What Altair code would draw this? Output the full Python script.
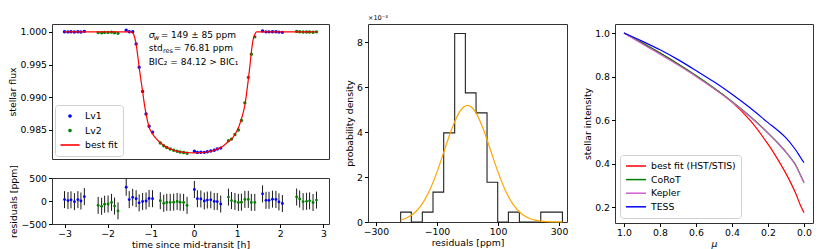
import altair as alt
import pandas as pd

FONT = "DejaVu Sans"

# ---------------- light curve (8 HST orbits, two visits) ----------------
ORBIT_VISIT = ["Lv1", "Lv2", "Lv1", "Lv2", "Lv1", "Lv2", "Lv1", "Lv2"]
ORBIT_TIME_H = [
    [-3.00, -2.92, -2.85, -2.77, -2.69, -2.62, -2.54],
    [-2.22, -2.14, -2.07, -1.99, -1.91, -1.84, -1.76],
    [-1.57, -1.50, -1.42, -1.34, -1.27, -1.19, -1.11, -1.04, -0.96],
    [-0.78, -0.70, -0.63, -0.55, -0.47, -0.39, -0.32, -0.24, -0.16],
    [0.01, 0.08, 0.16, 0.24, 0.31, 0.39, 0.47, 0.54, 0.62],
    [0.80, 0.87, 0.95, 1.03, 1.10, 1.18, 1.26, 1.33, 1.41],
    [1.59, 1.67, 1.74, 1.82, 1.90, 1.97, 2.05],
    [2.38, 2.45, 2.53, 2.61, 2.68, 2.76, 2.84],
]
ORBIT_FLUX = [
    [1.00003, 1.00001, 1.000025, 0.999985, 1.00003, 1.00000, 1.000095],
    [0.999905, 0.999885, 0.99993, 0.999935, 0.99997, 0.99989, 0.999785],
    [1.00028, 1.00003, 1.00003, 0.99817, 0.99460, 0.99090, 0.98745, 0.98556, 0.98465],
    [0.98301, 0.98257, 0.98232, 0.98207, 0.98188, 0.98174, 0.98162, 0.98154, 0.98144],
    [0.98175, 0.98156, 0.98159, 0.98157, 0.98166, 0.98178, 0.98189, 0.98209, 0.98222],
    [0.98335, 0.98360, 0.98430, 0.98500, 0.98645, 0.98915, 0.99305, 0.99660, 0.99925],
    [1.000155, 1.000015, 1.000015, 1.00004, 1.000035, 0.99998, 0.999945],
    [1.000087, 1.000043, 0.999985, 0.999993, 1.000003, 0.999967, 1.00002],
]
ORBIT_RESID_PPM = [
    [30, 10, 25, -15, 30, 0, 95],
    [-95, -115, -70, -65, -30, -110, -215],
    [300, 30, 80, 50, -40, -10, 0, 55, 50],
    [5, -50, -30, -30, -25, -10, -25, -30, -95],
    [250, 50, 45, 0, 20, 25, -10, -12, -65],
    [85, 10, -10, -30, -25, 35, 35, -30, -30],
    [155, 15, 15, 40, 35, -20, -55],
    [87, 43, -15, -7, 3, -33, 20],
]
RESID_ERR_PPM = 185

# best-fit transit model
MODEL_T = [-3.00, -1.46, -1.42, -1.38, -1.34, -1.30, -1.27, -1.23, -1.19, -1.15,
           -1.11, -1.07, -1.04, -1.00, -0.96, -0.90, -0.80, -0.70, -0.60, -0.50,
           -0.40, -0.30, -0.20, -0.10, 0.00, 0.10, 0.20, 0.30, 0.40, 0.50,
           0.60, 0.70, 0.80, 0.87, 0.95, 1.03, 1.10, 1.14, 1.18, 1.22,
           1.26, 1.30, 1.33, 1.37, 1.41, 1.45, 2.84]
MODEL_F = [1.0, 1.0, 0.99985, 0.9993, 0.9981, 0.9962, 0.9946, 0.9927, 0.9909, 0.9890,
           0.98745, 0.98620, 0.98540, 0.98485, 0.98440, 0.98385, 0.98315, 0.98262, 0.98225, 0.98197,
           0.98176, 0.98162, 0.98155, 0.98151, 0.98150, 0.98151, 0.98155, 0.98162, 0.98176, 0.98197,
           0.98225, 0.98264, 0.98326, 0.98359, 0.98431, 0.98533, 0.98670, 0.98760, 0.98880, 0.99060,
           0.99270, 0.99500, 0.99690, 0.99880, 0.99960, 1.0, 1.0]

# ---------------- residual histogram ----------------
HIST_EDGES = [-219, -184, -148, -113, -78, -42, -7, 28, 64, 99, 134, 170, 205, 240, 276, 311]
HIST_DENS_E3 = [0.44, 0.0, 0.44, 1.33, 3.97, 8.40, 5.75, 4.86, 1.77, 0.0, 0.44, 0.0, 0.0, 0.44, 0.44]
GAUSS_X = [-219, -200, -175, -150, -125, -100, -75, -50, -25, 0, 25, 50, 75, 100,
           125, 150, 175, 200, 225, 250, 280, 311]
GAUSS_Y_E3 = [0.09, 0.175, 0.39, 0.77, 1.38, 2.22, 3.22, 4.20, 4.93, 5.195, 4.93, 4.20, 3.22, 2.22,
              1.38, 0.77, 0.39, 0.175, 0.071, 0.026, 0.007, 0.0014]

# ---------------- limb darkening profiles ----------------
MU = [1.0, 0.9, 0.8, 0.7, 0.6, 0.5, 0.4, 0.3, 0.2, 0.15, 0.1, 0.05, 0.02, 0.0]
LD_NAMES = ["best fit (HST/STIS)", "CoRoT", "Kepler", "TESS"]
LD_COLORS = ["#ff0000", "#008000", "#d062d0", "#0000ff"]
LD_BESTFIT = [1.0, 0.955, 0.908, 0.858, 0.803, 0.746, 0.683, 0.600, 0.490, 0.426, 0.355, 0.272, 0.210, 0.176]
LD_COROT = [1.0, 0.955, 0.908, 0.858, 0.805, 0.748, 0.686, 0.618, 0.542, 0.500, 0.454, 0.400, 0.350, 0.314]
LD_KEPLER = [1.0, 0.951, 0.903, 0.853, 0.801, 0.745, 0.684, 0.616, 0.540, 0.498, 0.452, 0.397, 0.347, 0.312]
LD_TESS = [1.0, 0.963, 0.923, 0.878, 0.828, 0.776, 0.719, 0.657, 0.589, 0.556, 0.519, 0.468, 0.430, 0.405]

# ---------------- tables ----------------
rows = []
for visit, ts, fs, rs in zip(ORBIT_VISIT, ORBIT_TIME_H, ORBIT_FLUX, ORBIT_RESID_PPM):
    for t, f, r in zip(ts, fs, rs):
        rows.append({"t": t, "flux": f, "resid": r, "err": RESID_ERR_PPM, "series": visit})
lc_df = pd.DataFrame(rows)
model_df = pd.DataFrame({"t": MODEL_T, "flux": MODEL_F, "series": "best fit"})

step_x = [HIST_EDGES[0]] + HIST_EDGES[:-1] + [HIST_EDGES[-1]]
step_y = [0.0] + HIST_DENS_E3 + [0.0]
step_df = pd.DataFrame({"x": step_x, "y": step_y, "i": list(range(len(step_x)))})
gauss_df = pd.DataFrame({"x": GAUSS_X, "y": GAUSS_Y_E3})

ld_rows = []
for name, vals in zip(LD_NAMES, [LD_BESTFIT, LD_COROT, LD_KEPLER, LD_TESS]):
    for m, v in zip(MU, vals):
        ld_rows.append({"mu": m, "I": v, "ld": name})
ld_df = pd.DataFrame(ld_rows)

# legend glyphs (unit-box symbol paths)
DOT = "M -0.2,0 A 0.2,0.2 0 1,1 0.2,0 A 0.2,0.2 0 1,1 -0.2,0 Z"
LINE_LONG = "M -1.9,0 L 1.9,0"
LINE_LD = "M -2,0 L 2,0"

# ---------------- panel 1: light curve ----------------
LC_DOMAIN = ["Lv1", "Lv2", "best fit"]
xs = alt.Scale(domain=[-3.29, 3.13], nice=False, zero=False)
ys_lc = alt.Scale(domain=[0.98055, 1.00122], nice=False, zero=False)
color_lc = alt.Scale(domain=LC_DOMAIN, range=["#0000ff", "#008000", "#ff0000"])
shape_lc = alt.Scale(domain=LC_DOMAIN, range=[DOT, DOT, LINE_LONG])

legend_lc = alt.Legend(
    title=None, orient="bottom-left", offset=3, fillColor="white", strokeColor="#d0d0d0",
    cornerRadius=3, padding=5, labelFontSize=9.3, labelFont=FONT, rowPadding=2.5,
    symbolOffset=4, labelOffset=9, symbolStrokeWidth=1.6, symbolSize=100,
)

y_lc = alt.Y("flux:Q", scale=ys_lc,
             axis=alt.Axis(values=[0.985, 0.99, 0.995, 1.0], format=".3f", title="stellar flux"))
pts = alt.Chart(lc_df).mark_point(filled=False, strokeWidth=1.5, opacity=1, size=90).encode(
    x=alt.X("t:Q", scale=xs, axis=None), y=y_lc,
    color=alt.Color("series:N", scale=color_lc, legend=legend_lc),
    shape=alt.Shape("series:N", scale=shape_lc, legend=legend_lc),
)
model_line = alt.Chart(model_df).mark_line(strokeWidth=1.2, interpolate="monotone").encode(
    x=alt.X("t:Q", scale=xs, axis=None), y=y_lc,
    color=alt.Color("series:N", scale=color_lc, legend=legend_lc),
)

ANN_X = -1.049
ann_df = pd.DataFrame({
    "x": [ANN_X, ANN_X, ANN_X, ANN_X, ANN_X, ANN_X],
    "y": [0.99954, 0.99954, 0.99954, 0.99747, 0.99747, 0.99747],
    "txt": ["σ", "w", "= 149 ± 85 ppm", "std", "res", "= 76.81 ppm"],
    "dx": [0, 5.0, 12.0, 0, 14.3, 25.0],
    "dy": [0, 3, 0, 0, 3, 0],
    "size": [9.5, 6.8, 9.0, 9.0, 6.5, 9.0],
    "style": ["italic", "italic", "normal", "normal", "normal", "normal"],
})
ann_parts = []
for _, r in ann_df.iterrows():
    ann_parts.append(
        alt.Chart(pd.DataFrame([r])).mark_text(
            align="left", baseline="middle", dx=float(r["dx"]), dy=float(r["dy"]),
            fontSize=float(r["size"]), fontStyle=r["style"], font=FONT, color="black",
        ).encode(x=alt.X("x:Q", scale=xs, axis=None), y=alt.Y("y:Q", scale=ys_lc), text="txt:N")
    )
bic_df = pd.DataFrame({"x": [ANN_X], "y": [0.99534], "txt": ["BIC₂ = 84.12 > BIC₁"]})
ann_parts.append(
    alt.Chart(bic_df).mark_text(align="left", baseline="middle", fontSize=9.0, font=FONT, color="black")
    .encode(x=alt.X("x:Q", scale=xs, axis=None), y=alt.Y("y:Q", scale=ys_lc), text="txt:N")
)

top = alt.layer(pts, model_line, *ann_parts).properties(width=277, height=135)

# ---------------- panel 1b: residuals ----------------
ys_res = alt.Scale(domain=[-500, 500], nice=False)
color_res = alt.Scale(domain=["Lv1", "Lv2"], range=["#0000ff", "#008000"])
res_x_axis = alt.Axis(values=[-3, -2, -1, 0, 1, 2, 3], format="d", title="time since mid-transit [h]")
res_y_axis = alt.Axis(values=[-500, 0, 500], format="d", title="residuals [ppm]", labelOverlap=False)
bars = alt.Chart(lc_df).transform_calculate(
    lo="datum.resid - datum.err", hi="datum.resid + datum.err"
).mark_rule(color="#1a1a1a", strokeWidth=1).encode(
    x=alt.X("t:Q", scale=xs, axis=res_x_axis),
    y=alt.Y("lo:Q", scale=ys_res, axis=res_y_axis),
    y2="hi:Q",
)
res_pts = alt.Chart(lc_df).mark_circle(size=8, opacity=1).encode(
    x=alt.X("t:Q", scale=xs, axis=res_x_axis),
    y=alt.Y("resid:Q", scale=ys_res, axis=res_y_axis),
    color=alt.Color("series:N", scale=color_res, legend=None),
)
bottom = alt.layer(bars, res_pts).properties(width=277, height=46)

left = alt.vconcat(top, bottom, spacing=4).resolve_scale(color="independent", shape="independent")

# ---------------- panel 2: histogram ----------------
xs_h = alt.Scale(domain=[-326, 326], nice=False, zero=False)
ys_h = alt.Scale(domain=[0, 8.82], nice=False)
hist = alt.Chart(step_df).mark_line(color="#222222", strokeWidth=1.1, interpolate="step-after").encode(
    x=alt.X("x:Q", scale=xs_h, axis=alt.Axis(values=[-300, -200, -100, 0, 100, 200, 300], format="d",
                                              title="residuals [ppm]")),
    y=alt.Y("y:Q", scale=ys_h, axis=alt.Axis(values=list(range(9)), format="d",
                                             title="probability density")),
    order="i:Q",
)
gauss = alt.Chart(gauss_df).mark_line(color="#ffa500", strokeWidth=1.2, interpolate="monotone").encode(
    x=alt.X("x:Q", scale=xs_h), y=alt.Y("y:Q", scale=ys_h),
)
offset_df = pd.DataFrame({"x": [-326], "y": [8.82], "txt": ["×10⁻³"]})
offset_txt = alt.Chart(offset_df).mark_text(
    align="left", baseline="bottom", dy=-3, fontSize=6.5, font=FONT, color="black"
).encode(x=alt.X("x:Q", scale=xs_h), y=alt.Y("y:Q", scale=ys_h), text="txt:N")
middle = alt.layer(hist, gauss, offset_txt).properties(width=199, height=198)

# ---------------- panel 3: limb darkening ----------------
ld = alt.Chart(ld_df).mark_line(strokeWidth=1.2, interpolate="catmull-rom").encode(
    x=alt.X("mu:Q", scale=alt.Scale(domain=[-0.05, 1.05], reverse=True, nice=False, zero=False),
            axis=alt.Axis(values=[0.0, 0.2, 0.4, 0.6, 0.8, 1.0], format=".1f", title="μ",
                          titleFontStyle="italic")),
    y=alt.Y("I:Q", scale=alt.Scale(domain=[0.1285, 1.0415], nice=False, zero=False),
            axis=alt.Axis(values=[0.2, 0.4, 0.6, 0.8, 1.0], format=".1f", title="stellar intensity")),
    color=alt.Color("ld:N", scale=alt.Scale(domain=LD_NAMES, range=LD_COLORS),
                    legend=alt.Legend(title=None, orient="bottom-left", offset=5, symbolType=LINE_LD,
                                      symbolSize=100, symbolStrokeWidth=1.5, labelFontSize=9.3,
                                      labelFont=FONT, rowPadding=1.6, symbolOffset=5, labelOffset=9,
                                      fillColor="white", strokeColor="#d0d0d0", cornerRadius=3,
                                      padding=5)),
    detail="ld:N",
)
right = ld.properties(width=198, height=199)

mid_right = alt.hconcat(middle, right, spacing=14).resolve_scale(color="independent")
chart = alt.hconcat(left, mid_right, spacing=15).resolve_scale(
    color="independent", shape="independent"
).properties(
    padding={"left": 0, "top": 6, "right": 0, "bottom": 0}
).configure_axis(
    labelFont=FONT, labelFontSize=9.3, labelColor="black",
    titleFont=FONT, titleFontSize=9.3, titleFontWeight="normal", titleColor="black",
    tickColor="black", tickSize=3.5, labelPadding=2, titlePadding=2, domain=False, grid=False,
    labelOverlap=False, labelFlush=False,
).configure_view(stroke="#333333", strokeWidth=1).configure_text(font=FONT)

chart.save("out.html", embed_options={"renderer": "svg", "actions": False})
